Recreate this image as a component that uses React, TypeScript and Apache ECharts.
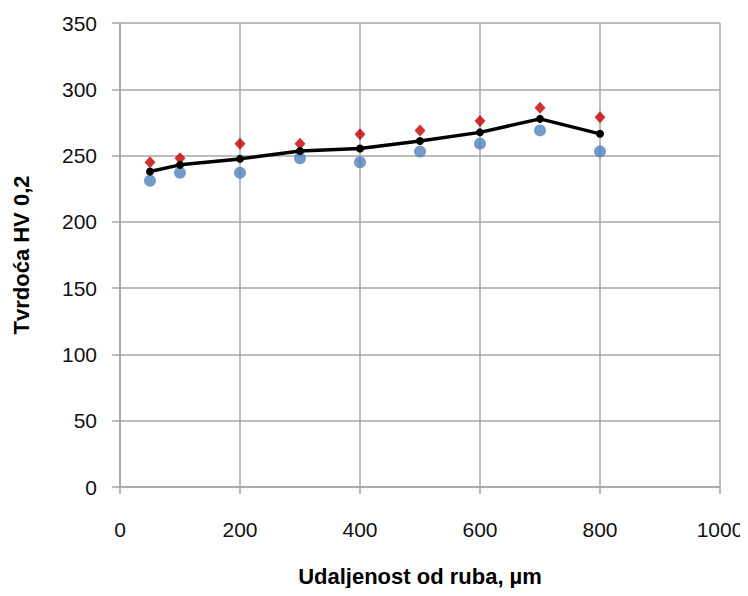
import React, { useEffect, useRef } from "react";
import * as echarts from "echarts";

const distances = [50, 100, 200, 300, 400, 500, 600, 700, 800];
const hvRed = [245, 248, 259, 259, 266, 269, 276, 286, 279];
const hvBlue = [231, 237, 237, 248, 245, 253, 259, 269, 253];
const hvMean = [238, 243, 247.5, 253.5, 255.3, 261, 267.5, 277.7, 266.4];
const yTicks = [0, 50, 100, 150, 200, 250, 300, 350];
const xTicks = [0, 200, 400, 600, 800, 1000];

const font = "'Liberation Sans', Arial, sans-serif";

export default function App() {
  const ref = useRef<HTMLDivElement>(null);
  useEffect(() => {
    if (!ref.current) return;
    const chart = echarts.init(ref.current, null, { renderer: "svg" });
    const pairs = (ys: number[]) => distances.map((x, i) => [x, ys[i]]);
    chart.setOption({
      animation: false,
      backgroundColor: "#ffffff",
      grid: { left: 120, right: 28, top: 23, bottom: 109 },
      xAxis: {
        type: "value",
        min: xTicks[0],
        max: xTicks[xTicks.length - 1],
        interval: 200,
        name: "Udaljenost od ruba, µm",
        nameLocation: "middle",
        nameGap: 78,
        nameTextStyle: { fontFamily: font, fontSize: 22, fontWeight: "bold", color: "#000" },
        axisLine: { show: true, lineStyle: { color: "#a6a6a6", width: 1.5 } },
        axisTick: { show: true, length: 7, lineStyle: { color: "#a6a6a6", width: 1.5 } },
        axisLabel: {
          fontFamily: font,
          fontSize: 21,
          color: "#111",
          margin: 32,
          formatter: (v: number) => String(v),
        },
        splitLine: { show: true, lineStyle: { color: "#a6a6a6", width: 1.5 } },
      },
      yAxis: {
        type: "value",
        min: yTicks[0],
        max: yTicks[yTicks.length - 1],
        interval: 50,
        name: "Tvrdoća HV 0,2",
        nameLocation: "middle",
        nameGap: 88,
        nameRotate: 90,
        nameTextStyle: { fontFamily: font, fontSize: 22, fontWeight: "bold", color: "#000" },
        axisLine: { show: true, lineStyle: { color: "#a6a6a6", width: 1.5 } },
        axisTick: { show: true, length: 8, lineStyle: { color: "#a6a6a6", width: 1.5 } },
        axisLabel: {
          fontFamily: font,
          fontSize: 21,
          color: "#111",
          margin: 23,
          formatter: (v: number) => String(v),
        },
        splitLine: { show: true, lineStyle: { color: "#a6a6a6", width: 1.5 } },
      },
      series: [
        {
          type: "scatter",
          data: pairs(hvBlue),
          symbol: "circle",
          symbolSize: 12,
          itemStyle: { color: "#4f81bd" },
          z: 2,
        },
        {
          type: "scatter",
          data: pairs(hvRed),
          symbol: "diamond",
          symbolSize: [11, 12],
          itemStyle: { color: "#c00000" },
          z: 2,
        },
        {
          type: "line",
          data: pairs(hvMean),
          symbol: "circle",
          symbolSize: 8,
          showSymbol: true,
          lineStyle: { color: "#000", width: 3.5 },
          itemStyle: { color: "#000" },
          z: 3,
        },
      ],
    });
    return () => chart.dispose();
  }, []);
  return <div ref={ref} style={{ width: 748, height: 596, margin: -8 }} />;
}
